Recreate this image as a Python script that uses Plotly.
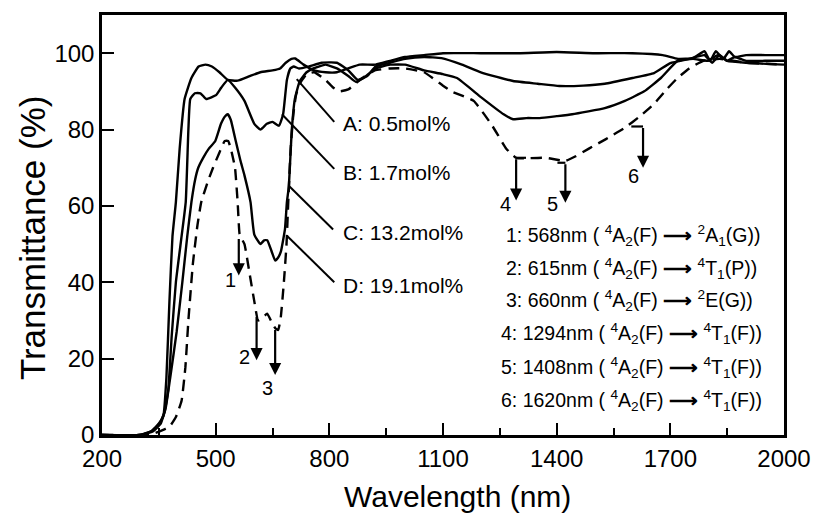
import plotly.graph_objects as go

# ---------------- data ----------------
wl_A = [200, 300, 330, 350, 362, 370, 378, 386, 395, 405, 418, 436, 455, 473, 490, 510, 532, 558, 590, 618, 650, 670, 685, 700, 710, 732, 760, 790, 820, 850, 880, 922, 960, 1000, 1050, 1100, 1200, 1300, 1400, 1500, 1600, 1680, 1720, 1760, 1790, 1805, 1820, 1840, 1855, 1870, 1900, 1950, 2000]
T_A = [0, 0, 1, 3, 5, 15, 35, 52, 61, 75, 88, 93.5, 96.5, 97, 96.5, 95, 93, 92.8, 94, 95, 95.5, 96, 97.5, 98.5, 98.6, 97, 95.5, 95, 95, 96, 97, 97, 98, 99, 99.5, 100, 100, 100, 100.3, 100, 100, 99.5, 98.5, 98.7, 100.5, 98, 100.5, 98.5, 100.5, 99, 99.5, 99.5, 99.5]

wl_B = [200, 300, 330, 352, 365, 375, 384, 395, 410, 421, 428, 433, 445, 460, 475, 490, 501, 515, 532, 551, 576, 602, 618, 635, 650, 667, 678, 688, 697, 706, 720, 745, 780, 820, 850, 875, 900, 922, 960, 1000, 1050, 1096, 1150, 1200, 1285, 1350, 1407, 1470, 1527, 1600, 1657, 1700, 1750, 1790, 1810, 1830, 1850, 1870, 1900, 1950, 2000]
T_B = [0, 0, 1, 3, 6, 12, 26, 40, 52, 61, 80, 88, 89.5, 89.5, 88, 88.5, 89, 91, 93, 91, 87.5, 81.5, 80, 81.5, 82, 81, 84, 93, 96, 96.5, 96, 96.5, 97.5, 97.5, 95.5, 93, 94, 96.5, 97.5, 98.5, 99, 98.7, 97, 95, 92.7, 92, 91.4, 91.5, 92, 93.5, 94.8, 97.4, 98.5, 99.5, 97.5, 99.5, 98, 99, 98, 98, 98]

wl_C = [200, 300, 335, 355, 368, 380, 397, 412, 425, 436, 446, 454, 467, 482, 499, 514, 525, 532, 540, 553, 565, 576, 592, 602, 618, 628, 636, 648, 657, 665, 672, 683, 688, 693, 701, 709, 722, 740, 758, 790, 820, 850, 870, 890, 922, 960, 1000, 1050, 1100, 1137, 1200, 1260, 1285, 1320, 1355, 1400, 1441, 1527, 1580, 1631, 1675, 1719, 1760, 1800, 1825, 1850, 1900, 2000]
T_C = [0, 0, 1, 3, 7, 15, 27, 40, 52, 61, 67, 70, 72.6, 75, 77, 81.5, 83.5, 84, 82.5, 77, 72, 68, 61, 52.5, 50, 51, 51, 48, 45.7, 46.5, 48, 54, 61, 65, 80, 88, 92.7, 95, 96, 97, 96, 94, 92.5, 93.5, 96, 97, 97, 95.5, 94.5, 93.5, 88.5, 84, 82.7, 83, 83, 83.5, 84, 85.6, 87.5, 90, 93.5, 98, 98.5, 98, 99.5, 98, 97.5, 97]

wl_D = [200, 300, 340, 365, 377, 395, 410, 420, 428, 440, 452, 462, 478, 493, 510, 524, 533, 540, 551, 558, 563, 568, 576, 590, 602, 612, 622, 636, 648, 657, 665, 672, 680, 687, 692, 698, 705, 712, 722, 740, 760, 790, 810, 826, 850, 880, 920, 960, 1000, 1050, 1100, 1122, 1181, 1230, 1267, 1293, 1330, 1371, 1423, 1450, 1485, 1530, 1579, 1620, 1657, 1690, 1719, 1750, 1787, 1830, 1900, 2000]
T_D = [0, 0, 0.5, 1.5, 2, 4.7, 9, 17.7, 30, 45, 55, 61, 66, 70, 74, 77, 77, 75, 70, 61, 52.7, 51.5, 50, 42, 35, 30, 30.5, 31.8, 29.5, 28, 27.5, 31, 40, 50, 62, 75, 84, 89, 92, 94.5, 95, 93, 91, 90, 90.5, 93, 95.5, 96, 96, 95, 91.5, 90, 87.5, 81, 75, 72.6, 72.5, 72.6, 71.8, 73, 75, 77.5, 80.4, 83.5, 86.7, 90.5, 93.5, 96, 98, 98.5, 97.5, 97]

series_names = ["A: 0.5mol%", "B: 1.7mol%", "C: 13.2mol%", "D: 19.1mol%"]
# leader lines: curve point -> label point
lead_x0 = [714, 675, 693, 688]
lead_y0 = [93.2, 84.0, 65.3, 52.2]
lead_x1 = [813, 813, 810, 813]
lead_y1 = [82.0, 69.7, 53.8, 40.0]
label_x = [831, 831, 831, 831]
label_y = [81.5, 68.7, 53.0, 39.2]

# absorption arrows
arrow_ids = ["1", "2", "3", "4", "5", "6"]
arrow_x = [561, 608, 657, 1293, 1423, 1628]
arrow_top = [51.7, 31.3, 27.9, 72.6, 71.3, 80.8]
arrow_tip = [41.8, 19.6, 15.7, 61.4, 60.8, 70.0]
bracket_x0 = [None, None, None, 1319, 1402, 1597]
num_x = [540, 577, 636, 1265, 1389, 1602]
num_y = [40.5, 20.4, 12.3, 60.6, 60.6, 67.8]

transitions = [
    "1: 568nm ( <sup>4</sup>A<sub>2</sub>(F) <b>⟶</b> <sup>2</sup>A<sub>1</sub>(G))",
    "2: 615nm ( <sup>4</sup>A<sub>2</sub>(F) <b>⟶</b> <sup>4</sup>T<sub>1</sub>(P))",
    "3: 660nm ( <sup>4</sup>A<sub>2</sub>(F) <b>⟶</b> <sup>2</sup>E(G))",
    "4: 1294nm ( <sup>4</sup>A<sub>2</sub>(F) <b>⟶</b> <sup>4</sup>T<sub>1</sub>(F))",
    "5: 1408nm ( <sup>4</sup>A<sub>2</sub>(F) <b>⟶</b> <sup>4</sup>T<sub>1</sub>(F))",
    "6: 1620nm ( <sup>4</sup>A<sub>2</sub>(F) <b>⟶</b> <sup>4</sup>T<sub>1</sub>(F))",
]
trans_x = [1262, 1262, 1262, 1249, 1249, 1249]
trans_y = [52.2, 43.6, 35.2, 26.6, 17.8, 9.1]

x_ticks = [200, 500, 800, 1100, 1400, 1700, 2000]
y_ticks = [0, 20, 40, 60, 80, 100]

FONT = "Liberation Sans, Arial, sans-serif"

fig = go.Figure()
curves = [(wl_A, T_A, "solid"), (wl_B, T_B, "solid"), (wl_C, T_C, "solid"), (wl_D, T_D, "11px,7px")]
for (wx, ty, dash), name in zip(curves, series_names):
    fig.add_trace(go.Scatter(x=wx, y=ty, mode="lines", name=name,
                             line=dict(color="black", width=2.4, dash=dash, shape="spline", smoothing=0.4),
                             showlegend=False))

# leader lines
for i in range(4):
    fig.add_trace(go.Scatter(x=[lead_x0[i], lead_x1[i]], y=[lead_y0[i], lead_y1[i]], mode="lines",
                             line=dict(color="black", width=2), showlegend=False, hoverinfo="skip"))
    fig.add_annotation(x=label_x[i], y=label_y[i], text=series_names[i], showarrow=False,
                       xanchor="left", yanchor="middle", font=dict(family=FONT, size=21, color="black"))

# brackets for arrows 4-6
for i in range(6):
    if bracket_x0[i] is not None:
        fig.add_trace(go.Scatter(x=[bracket_x0[i], arrow_x[i]], y=[arrow_top[i], arrow_top[i]], mode="lines",
                                 line=dict(color="black", width=2.2), showlegend=False, hoverinfo="skip"))
    fig.add_annotation(x=arrow_x[i], y=arrow_tip[i], ax=arrow_x[i], ay=arrow_top[i],
                       xref="x", yref="y", axref="x", ayref="y", text="", showarrow=True,
                       arrowhead=2, arrowsize=1.1, arrowwidth=2.2, arrowcolor="black")
    fig.add_annotation(x=num_x[i], y=num_y[i], text=arrow_ids[i], showarrow=False,
                       font=dict(family=FONT, size=20, color="black"))

for t, tx, ty in zip(transitions, trans_x, trans_y):
    fig.add_annotation(x=tx, y=ty, text=t, showarrow=False, xanchor="left", yanchor="middle",
                       font=dict(family=FONT, size=19.5, color="black"))

# axis titles
fig.add_annotation(xref="paper", yref="paper", x=0.521, y=-0.147, text="Wavelength (nm)", showarrow=False,
                   xanchor="center", yanchor="middle", font=dict(family=FONT, size=30, color="black"))
fig.add_annotation(xref="paper", yref="paper", x=-0.1025, y=0.469, text="Transmittance (%)", showarrow=False,
                   textangle=-90, xanchor="center", yanchor="middle", font=dict(family=FONT, size=35, color="black"))

fig.update_xaxes(range=[200, 2000], tickvals=x_ticks, ticktext=[str(v) for v in x_ticks],
                 ticks="inside", ticklen=12, tickwidth=2, tickcolor="black",
                 minor=dict(tickvals=[350, 650, 950, 1250, 1550, 1850], ticks="inside", ticklen=7,
                            tickwidth=2, tickcolor="black"),
                 showline=True, linewidth=2.5, linecolor="black", mirror=True,
                 showgrid=False, zeroline=False,
                 tickfont=dict(family=FONT, size=24, color="black"))
fig.update_yaxes(range=[0, 110], tickvals=y_ticks, ticktext=[str(v) for v in y_ticks],
                 ticks="inside", ticklen=12, tickwidth=2, tickcolor="black",
                 showline=True, linewidth=2.5, linecolor="black", mirror=True,
                 showgrid=False, zeroline=False,
                 tickfont=dict(family=FONT, size=24, color="black"))

fig.update_layout(width=823, height=518, margin=dict(l=102, r=28, t=13, b=83),
                  plot_bgcolor="white", paper_bgcolor="white", showlegend=False)

fig.write_html("out.html")
